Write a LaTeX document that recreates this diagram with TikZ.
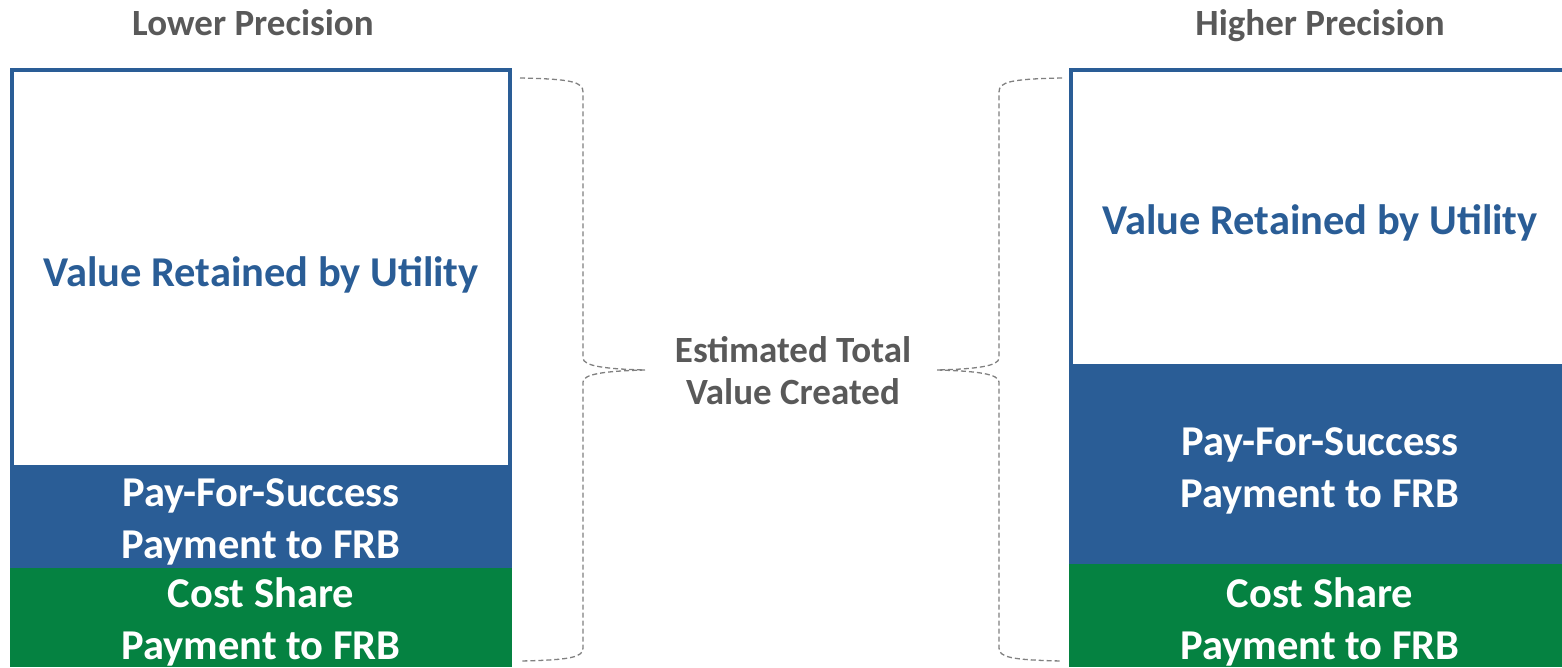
\documentclass[tikz,border=0pt]{standalone}
\usepackage{fontspec}
\setmainfont{Carlito}
\definecolor{frbblue}{RGB}{42,93,150}
\definecolor{frbgreen}{RGB}{5,130,65}
\definecolor{txtgray}{RGB}{89,89,89}
\definecolor{bracegray}{RGB}{128,128,128}
\begin{document}
\begin{tikzpicture}[x=1pt,y=-1pt,
  head/.style={font=\fontsize{37}{42}\selectfont\bfseries, text=txtgray, align=center, inner sep=0pt},
  valtext/.style={font=\fontsize{42.5}{52}\selectfont\bfseries, text=frbblue, align=center, inner sep=0pt},
  whitetext/.style={font=\fontsize{42.5}{52}\selectfont\bfseries, text=white, align=center, inner sep=0pt},
  bracestyle/.style={draw=bracegray, line width=1.3pt, dash pattern=on 5pt off 3pt}]
\useasboundingbox (0,0) rectangle (1562,667);
% left column
\fill[frbblue] (10,465) rectangle (512,568);
\fill[frbgreen] (10,568) rectangle (512,667);
\draw[frbblue, line width=4.5pt] (12,465) -- (12,70) -- (510,70) -- (510,465);
% right column
\fill[frbblue] (1069,364) rectangle (1562,564);
\fill[frbgreen] (1069,564) rectangle (1562,667);
\draw[frbblue, line width=4.5pt] (1071,364) -- (1071,70) -- (1570,70);
% headings
\node[head] (lowhead) at (253,23) {Lower Precision};
\node[head] (highhead) at (1320,26) {Higher Precision};
% left texts
\node[valtext] (lval) at (261,275) {Value Retained by Utility};
\node[whitetext] (lpfs) at (261,522) {Pay-For-Success\\Payment to FRB};
\node[whitetext] (lcs) at (261,622) {Cost Share\\Payment to FRB};
% right texts
\node[valtext] (rval) at (1320,223) {Value Retained by Utility};
\node[whitetext] (rpfs) at (1320,471) {Pay-For-Success\\Payment to FRB};
\node[whitetext] (rcs) at (1320,622) {Cost Share\\Payment to FRB};
% centre label
\node[head] (total) at (793,371) {Estimated Total\\Value Created};
% braces
\coordinate (ltip) at (645,370);
\coordinate (rtip) at (937,370);
\draw[bracestyle] (520,78) .. controls (572,79) and (583,82) .. (583,92) -- (583,358)
  .. controls (583,366) and (605,369) .. (ltip);
\draw[bracestyle] (ltip) .. controls (605,371) and (583,374) .. (583,382) -- (583,648)
  .. controls (583,657) and (572,660) .. (520,661);
\draw[bracestyle] (1062,78) .. controls (1010,79) and (999,82) .. (999,92) -- (999,358)
  .. controls (999,366) and (977,369) .. (rtip);
\draw[bracestyle] (rtip) .. controls (977,371) and (999,374) .. (999,382) -- (999,648)
  .. controls (999,657) and (1010,660) .. (1062,661);
\end{tikzpicture}
\end{document}
